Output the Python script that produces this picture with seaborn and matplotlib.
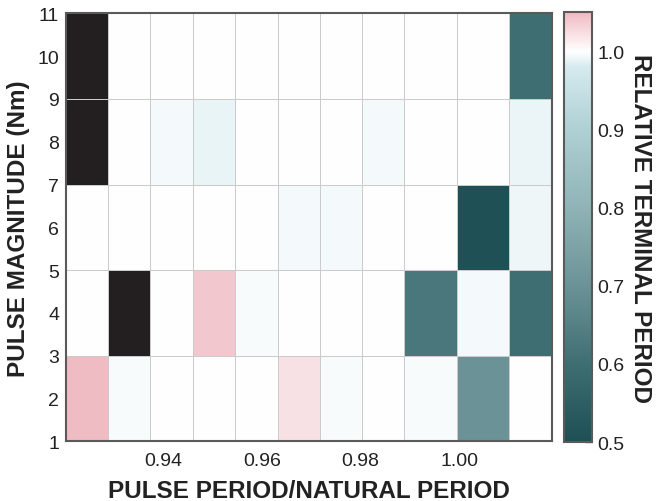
import numpy as np
import matplotlib
matplotlib.use("Agg")
import matplotlib.pyplot as plt
from matplotlib.colors import LinearSegmentedColormap, Normalize
import seaborn as sns

# ---- data ----
# bin edges of pulse period / natural period (x) and pulse magnitude in Nm (y)
period_edges = [0.9203, 0.9288, 0.9374, 0.9460, 0.9545, 0.9632, 0.9717,
                0.9803, 0.9888, 0.9995, 1.0101, 1.0187]
magnitude_edges = [1, 3, 5, 7, 9, 11]

# relative terminal period, rows from bottom (1-3 Nm) to top (9-11 Nm); nan = no terminal period (black)
row_1_3 = [1.048, 0.996, 1.000, 1.000, 1.000, 1.022, 0.996, 1.000, 0.996, 0.700, 1.000]
row_3_5 = [1.000, np.nan, 1.000, 1.040, 0.996, 1.000, 1.000, 1.000, 0.625, 0.995, 0.600]
row_5_7 = [1.000, 1.000, 1.000, 1.000, 1.000, 0.995, 0.995, 1.000, 1.000, 0.505, 0.991]
row_7_9 = [np.nan, 1.000, 0.995, 0.989, 1.000, 1.000, 1.000, 0.995, 1.000, 1.000, 0.990]
row_9_11 = [np.nan, 1.000, 1.000, 1.000, 1.000, 1.000, 1.000, 1.000, 1.000, 1.000, 0.600]

x_ticks = [0.94, 0.96, 0.98, 1.00]
y_ticks = list(range(1, 12))
cbar_ticks = [0.5, 0.6, 0.7, 0.8, 0.9, 1.0]

values = np.ma.masked_invalid(np.array([row_1_3, row_3_5, row_5_7, row_7_9, row_9_11]))

# ---- style ----
sns.set_theme(style="white")
plt.rcParams["font.family"] = ["Liberation Sans", "DejaVu Sans"]

vmin, vmax = 0.5, 1.05
nodes = [(0.50, "#1e4f54"), (0.60, "#3f6e72"), (0.70, "#6b9397"),
         (0.80, "#8fb3b6"), (0.90, "#afd0d4"), (0.98, "#d4eaee"),
         (1.00, "#ffffff"), (1.05, "#efbbc2")]
cmap = LinearSegmentedColormap.from_list(
    "terminal", [((v - vmin) / (vmax - vmin), c) for v, c in nodes], N=512)
cmap.set_bad("#231f20")

fig = plt.figure(figsize=(6.56, 5.02), dpi=100)
ax = fig.add_axes([0.1006, 0.1189, 0.7404, 0.8526])
cax = fig.add_axes([0.8602, 0.1175, 0.0422, 0.8560])

mesh = ax.pcolormesh(period_edges, magnitude_edges, values, cmap=cmap,
                     norm=Normalize(vmin, vmax), edgecolors="#cbcbcb",
                     linewidth=0.7)
ax.set_xlim(period_edges[0], period_edges[-1])
ax.set_ylim(magnitude_edges[0], magnitude_edges[-1])
ax.set_xticks(x_ticks)
ax.set_xticklabels([f"{t:.2f}" for t in x_ticks])
ax.set_yticks(y_ticks)
ax.set_yticklabels([str(t) for t in y_ticks])

spine_c = "#5a5a5a"
for ax_ in (ax, cax):
    for s in ax_.spines.values():
        s.set_color(spine_c)
        s.set_linewidth(1.5)
        s.set_visible(True)
ax.tick_params(direction="in", length=4, width=1, color=spine_c,
               labelsize=14, labelcolor="#222222", pad=5)
ax.tick_params(axis="x", pad=8)

ax.set_xlabel("PULSE PERIOD/NATURAL PERIOD", fontsize=17.5, fontweight="bold",
              color="#222222", labelpad=7)
ax.set_ylabel("PULSE MAGNITUDE (Nm)", fontsize=17.5, fontweight="bold",
              color="#222222", labelpad=5)

cb = fig.colorbar(mesh, cax=cax, ticks=cbar_ticks)
cb.outline.set_edgecolor(spine_c)
cb.outline.set_linewidth(1.5)
cax.tick_params(direction="in", length=5, width=1, color=spine_c,
                labelsize=14, labelcolor="#222222", pad=4)
cax.set_yticklabels([f"{t:.1f}" for t in cbar_ticks])
cb.set_label("RELATIVE TERMINAL PERIOD", fontsize=17.5, fontweight="bold",
             color="#222222", rotation=270, labelpad=20)

fig.savefig("out.png", dpi=100)
